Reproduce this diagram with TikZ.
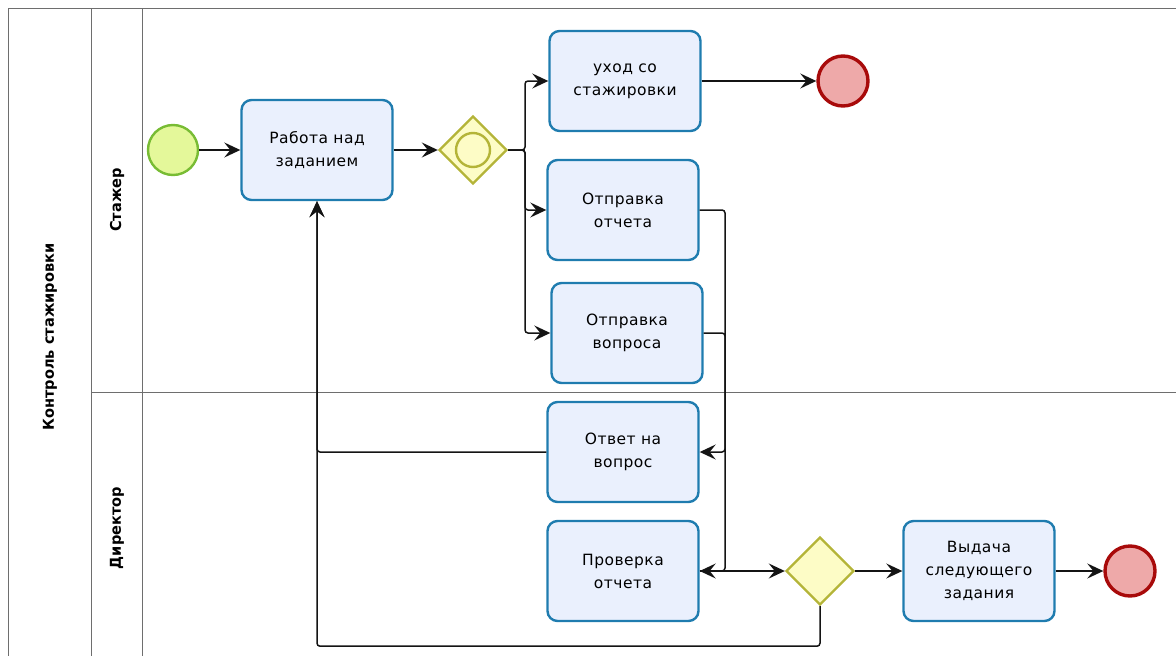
\documentclass[tikz,border=0pt]{standalone}
\usepackage{fontspec}
\setmainfont{DejaVu Sans}
\newfontfamily\taskfont{DejaVu Sans}[LetterSpace=3]
\newfontfamily\lanefont{DejaVu Sans}[FakeStretch=0.97]
\usetikzlibrary{arrows.meta,shapes.geometric}

\definecolor{taskfill}{HTML}{EAF0FD}
\definecolor{taskline}{HTML}{1F7CAF}
\definecolor{startfill}{HTML}{E4F89A}
\definecolor{startline}{HTML}{78BC34}
\definecolor{endfill}{HTML}{EEA9A9}
\definecolor{endline}{HTML}{A80A0A}
\definecolor{gwfill}{HTML}{FDFCC6}
\definecolor{gwline}{HTML}{B4B438}
\definecolor{poolline}{HTML}{6E6E6E}
\definecolor{flowline}{HTML}{141414}

\tikzset{
  activity/.style={draw=taskline, fill=taskfill, line width=2.4pt, rounded corners=10pt,
    minimum width=151pt, minimum height=100pt, align=center, inner sep=0pt,
    font=\taskfont\fontsize{15.5}{23}\selectfont},
  startevent/.style={circle, draw=startline, fill=startfill, line width=2.4pt,
    minimum size=50pt, inner sep=0pt},
  endevent/.style={circle, draw=endline, fill=endfill, line width=3.4pt,
    minimum size=50pt, inner sep=0pt},
  gateway/.style={diamond, draw=gwline, fill=gwfill, line width=2.4pt,
    minimum width=68pt, minimum height=68pt, inner sep=0pt},
  flow/.style={draw=flowline, line width=1.5pt, rounded corners=3pt,
    -{Stealth[length=16pt, width=15pt, inset=6pt]}},
  poolrule/.style={draw=poolline, line width=1pt},
  lanelabel/.style={rotate=90, font=\lanefont\bfseries\fontsize{15}{16}\selectfont}
}

\begin{document}
\begin{tikzpicture}[x=1pt,y=-1pt]
  \useasboundingbox (0,0) rectangle (1176,656);
  \clip (0,0) rectangle (1176,656);

  % pool and lanes
  \draw[poolrule] (1200,8) -- (8,8) -- (8,680);
  \draw[poolrule] (91,8) -- (91,680);
  \draw[poolrule] (142,8) -- (142,680);
  \draw[poolrule] (91,392) -- (1200,392);
  \node[lanelabel] (poolname) at (50,337) {Контроль стажировки};
  \node[lanelabel] (lane1) at (117,200) {Стажер};
  \node[lanelabel] (lane2) at (117,528) {Директор};

  % events, activities and gateways
  \node[startevent] (start) at (173,150) {};
  \node[activity] (work) at (317,150) {Работа над\\заданием};
  \node[gateway] (gw1) at (473,150) {};
  \draw[draw=gwline, line width=2.4pt] (gw1.center) circle (17pt);
  \node[activity] (leave) at (625,81) {уход со\\стажировки};
  \node[endevent] (end1) at (843,81) {};
  \node[activity] (report) at (623,210) {Отправка\\отчета};
  \node[activity] (question) at (627,333) {Отправка\\вопроса};
  \node[activity] (answer) at (623,452) {Ответ на\\вопрос};
  \node[activity] (check) at (623,571) {Проверка\\отчета};
  \node[gateway] (gw2) at (820,571) {};
  \node[activity] (next) at (979,571) {Выдача\\следующего\\задания};
  \node[endevent] (end2) at (1130,571) {};

  \coordinate (split) at (525,0);
  \coordinate (back) at (725,0);

  % sequence flows
  \draw[flow] (start) -- (work);
  \draw[flow] (work) -- (gw1);
  \draw[flow] (gw1.east) -- (gw1.east -| split) |- (leave.west);
  \draw[flow] (gw1.east) -- (gw1.east -| split) |- (report.west);
  \draw[flow] (gw1.east) -- (gw1.east -| split) |- (question.west);
  \draw[flow] (leave) -- (end1);
  \draw[flow] (report.east) -- (report.east -| back) |- (check.east);
  \draw[flow] (question.east) -- (question.east -| back) |- (answer.east);
  \draw[flow] (answer.west) -| (work.south);
  \draw[flow] (check.east) -- (gw2.west);
  \draw[flow] (gw2.south) -- ++(0,40) -| (work.south);
  \draw[flow] (gw2.east) -- (next.west);
  \draw[flow] (next.east) -- (end2.west);
\end{tikzpicture}
\end{document}
